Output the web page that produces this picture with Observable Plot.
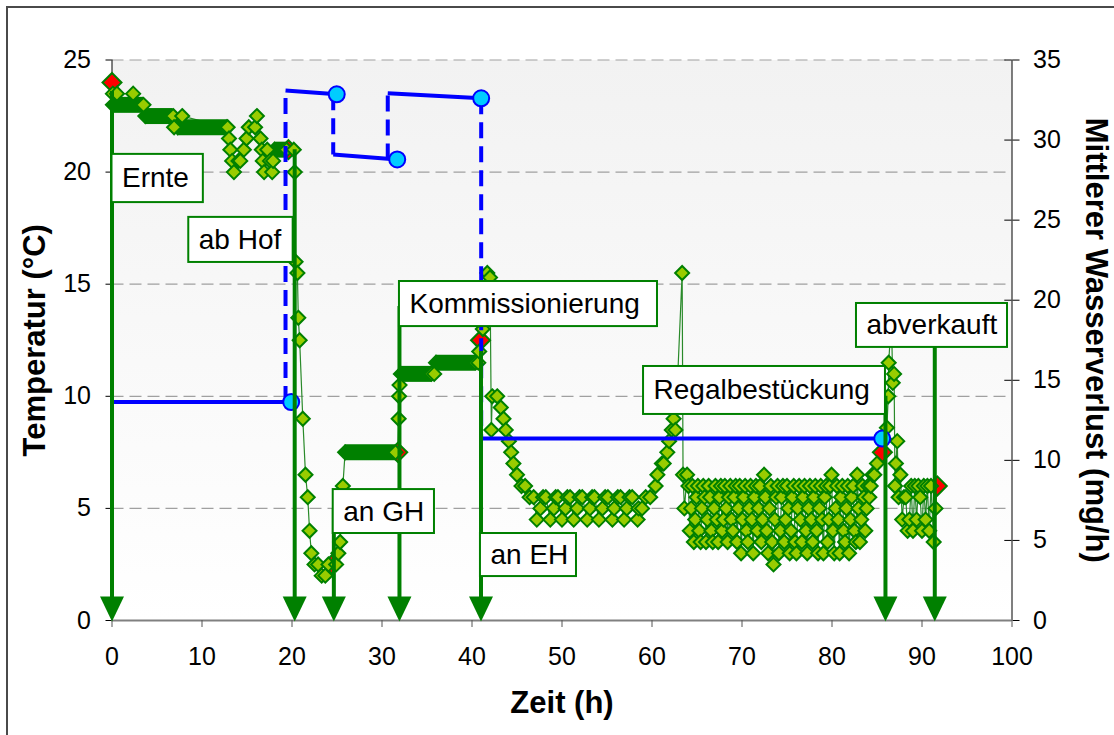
<!DOCTYPE html>
<html><head><meta charset="utf-8">
<script src="https://cdn.jsdelivr.net/npm/d3@7"></script>
<script src="https://cdn.jsdelivr.net/npm/@observablehq/plot@0.6"></script>
<style>
body{margin:0;background:#fff;overflow:hidden}
#wrap{position:relative;width:1114px;height:735px;overflow:hidden}
#border{position:absolute;left:6px;top:6px;width:1130px;height:760px;border:2px solid #4a4a4a;pointer-events:none}
</style></head><body>
<svg width="0" height="0" style="position:absolute"><defs><linearGradient id="bgGrad" x1="0" y1="0" x2="0" y2="1"><stop offset="0" stop-color="#f2f2f2"/><stop offset="1" stop-color="#ffffff"/></linearGradient></defs></svg>
<div id="wrap"><div id="chart"></div><div id="border"></div></div>
<script>
// ---------------- data ----------------
// temperature readings (h, °C)
const tempPoints = [
 [0.1,23.5],[0.55,23.5],[2.35,23.5],[3.5,23.0],[6.9,22.0],[7.8,22.5],[12.85,22.0],[13.0,21.5],[13.15,21.0],
 [13.35,20.5],[13.55,20.0],[14.05,20.5],[14.25,20.5],[14.65,21.0],[14.95,21.5],[15.2,22.0],[15.9,22.0],
 [16.1,22.5],[16.5,21.5],[16.65,21.0],[16.75,20.5],[16.9,20.0],[17.25,21.0],[17.55,20.5],[17.8,20.0],[17.9,20.5],
 [20.2,21.0],[20.3,20.0],[20.4,16.0],[20.6,15.5],[20.7,13.5],[20.85,12.5],[21.2,9.0],[21.5,6.5],[21.75,5.5],
 [21.95,4.0],[22.15,3.0],[22.5,2.5],[22.9,2.5],[23.3,2.0],[23.7,2.0],[24.05,2.5],[24.9,2.5],[25.15,3.0],
 [25.35,3.5],[25.65,6.0],[31.85,9.0],[31.9,10.0],[31.95,10.5],[35.8,11.0],[40.7,11.5],[40.8,12.0],
 [41.2,13.0],[41.7,15.5],[42.0,15.3],[42.15,8.5],[42.25,10.0],[42.8,10.0],[43.2,9.5],[43.5,9.0],[43.75,8.5],
 [44.1,8.0],[44.35,7.5],[44.6,7.0],[45.0,6.5],[45.5,6.0],[45.9,6.0],[46.4,5.5],
 [46.85,5.5],[47.2,4.5],[47.6,5.0],[47.9,5.5],[48.2,5.5],[48.7,4.5],[49.1,5.0],[49.3,5.5],[49.55,5.5],
 [50.0,4.5],[50.4,5.0],[50.6,5.5],[50.9,5.5],[51.3,4.5],[51.7,5.0],[51.95,5.5],[52.25,5.5],[52.8,4.5],
 [53.1,5.0],[53.35,5.5],[53.6,5.5],[54.1,4.5],[54.5,5.0],[54.8,5.5],[55.1,5.5],[55.6,4.5],[55.8,5.0],
 [56.2,5.5],[56.5,5.5],[56.9,4.5],[57.2,5.0],[57.5,5.5],[57.8,5.5],[58.4,4.5],[58.5,5.0],[58.9,5.0],[59.3,5.5],
 [59.8,5.5],[60.4,6.0],[60.6,6.5],[61.1,7.0],[61.3,7.0],[61.7,7.5],[61.9,8.0],[62.2,8.5],[62.4,9.0],[62.6,8.5],
 [63.35,15.5],[63.45,6.5],[63.6,5.0],
 [63.9,6.5],[64.05,6.0],[64.2,4.0],[64.35,5.0],[64.5,6.0],[64.65,3.5],[64.8,4.5],[64.95,5.5],
 [65.1,6.0],[65.25,4.0],[65.4,3.5],[65.55,5.0],[65.7,6.0],[65.85,5.5],[66.0,3.5],[66.15,4.5],
 [66.3,6.0],[66.45,5.5],[66.6,4.0],[66.75,3.5],[66.9,5.0],[67.05,6.0],[67.2,4.5],[67.35,3.5],
 [67.5,5.5],[67.65,6.0],[67.8,4.0],[67.95,4.5],[68.1,6.0],[68.25,5.0],[68.4,3.5],[68.55,5.5],
 [68.7,6.0],[68.85,4.5],[69.0,4.0],[69.15,5.5],[69.3,6.0],[69.45,3.5],[69.6,5.0],[69.75,6.0],
 [69.9,3.0],[70.05,4.5],[70.2,5.5],[70.35,6.0],[70.5,4.0],[70.65,3.5],[70.8,5.0],[70.95,6.0],
 [71.1,4.5],[71.25,3.0],[71.4,5.5],[71.55,6.0],[71.7,4.0],[71.85,5.0],[72.0,6.0],[72.15,3.5],
 [72.3,4.5],[72.45,6.5],[72.6,5.5],[72.75,4.0],[72.9,3.0],[73.05,5.0],[73.2,6.0],[73.35,3.5],
 [73.5,2.5],[73.65,4.5],[73.8,5.5],[73.95,6.0],[74.1,3.0],[74.25,4.0],[74.4,5.5],[74.55,6.0],
 [74.7,3.5],[74.85,4.5],[75.0,6.0],[75.15,5.0],[75.3,3.0],[75.45,4.0],[75.6,5.5],[75.75,6.0],
 [75.9,3.5],[76.05,3.0],[76.2,5.0],[76.35,6.0],[76.5,4.5],[76.65,3.5],[76.8,5.5],[76.95,6.0],
 [77.1,4.0],[77.25,3.0],[77.4,5.0],[77.55,6.0],[77.7,4.5],[77.85,3.5],[78.0,5.5],[78.15,6.0],
 [78.3,4.0],[78.45,3.0],[78.6,5.0],[78.75,6.0],[78.9,4.5],[79.05,3.0],[79.2,5.5],[79.35,6.0],
 [79.5,3.5],[79.65,4.5],[79.8,6.0],[79.95,6.5],[80.1,4.0],[80.25,3.0],[80.4,5.0],[80.55,6.0],
 [80.7,4.5],[80.85,3.0],[81.0,5.5],[81.15,6.0],[81.3,4.0],[81.45,3.5],[81.6,5.0],[81.75,6.0],
 [81.9,3.0],[82.05,4.5],[82.2,5.5],[82.35,6.0],[82.5,4.0],[82.65,3.5],[82.8,6.5],[82.95,5.0],
 [83.1,3.5],[83.25,4.5],[83.4,6.0],[83.55,5.5],[83.7,4.0],[83.85,5.0],[84.0,6.0],[84.15,5.5],
 [84.3,6.0],[84.5,6.5],[84.7,6.5],[85.0,7.0],
 [85.8,8.1],[86.1,8.6],[86.25,10.0],[86.3,11.5],[86.6,13.5],[86.75,10.6],[86.9,11.0],[87.0,6.0],[87.1,7.0],
 [87.25,8.0],[87.4,5.5],[87.6,6.5],[87.8,4.5],[88.0,5.5],[88.2,5.5],[88.4,4.0],[88.6,4.5],[88.8,6.0],
 [89.0,4.0],[89.2,6.0],[89.4,4.5],[89.6,6.0],[89.8,5.5],[90.0,4.0],[90.2,6.0],[90.4,4.5],[90.6,6.0],
 [90.8,4.0],[91.0,6.0],[91.3,3.5],[91.5,5.0]
];
// runs of identical readings (from h, to h, °C)
const plateaus = [
 [0.1,3.4,23.0],[3.7,6.8,22.5],[7.3,12.7,22.0],[18.05,19.4,21.0],[25.9,31.5,7.5],[32.1,35.5,11.0],[36.0,40.4,11.5]
];
// readings at the logistic events (red)
const eventReadings = [[0,24.0],[19.6,21.0],[24.45,2.5],[31.75,7.5],[40.95,12.5],[85.6,7.5],[91.7,6.0]];

// mean water loss (mg/h): horizontal steps [x1, y1, x2, y2] and jumps between them
const waterSteps = [
 [0,13.64,19.91,13.64],[19.28,33.1,24.97,32.86],[24.58,29.1,31.69,28.79],[30.64,32.92,41.02,32.61],[41.02,11.36,85.58,11.36]
];
const waterJumps = [
 [19.28,13.64,19.28,33.1],[24.58,32.86,24.58,29.1],[30.64,28.79,30.64,32.92],[41.02,32.61,41.02,11.36]
];
const waterMarkers = [[19.91,13.64],[24.97,32.86],[31.69,28.79],[41.02,32.61],[85.58,11.36]];

// event arrows
const eventX   = [0, 20.3, 24.65, 31.94, 41.0, 85.94, 91.42];
const eventTop = [23.6, 21.0, 5.0, 14.0, 12.0, 10.0, 13.0];

// event labels (boxes in h / °C)
const labelText   = ["Ernte","ab Hof","an GH","Kommissionierung","an EH","Regalbestückung","abverkauft"];
const labelX1     = [0, 8.53, 24.58, 31.94, 40.94, 59.06, 82.72];
const labelX2     = [10.15, 20.13, 35.83, 60.61, 51.61, 85.94, 99.5];
const labelTop    = [20.79, 17.98, 5.84, 15.12, 3.88, 11.33, 14.14];
const labelBottom = [18.64, 15.97, 3.88, 13.11, 1.96, 9.19, 12.18];

const xTicks = [0,10,20,30,40,50,60,70,80,90,100];
const leftTicks = [0,5,10,15,20,25];
const rightTicks = [0,5,10,15,20,25,30,35];
const gridValues = [5,10,15,20,25];

// ---------------- build ----------------
const k = 25/35; // right axis (mg/h) -> left axis (°C)
const GREEN = "#008000", LIME = "#99cc00", RED = "#ff0000", BLUE = "#0000ff", CYAN = "#00ccff";
const HY = 7, HR = 9.5;

const dots = [
  ...tempPoints.map(([t,v]) => ({t, v, f: LIME, h: HY})),
  ...plateaus.map(([t1,t2,v]) => ({t: t2, v, f: LIME, h: HY})),
  ...eventReadings.map(([t,v]) => ({t, v, f: RED, h: HR}))
].sort((a,b) => a.t - b.t);
const linePts = [
  ...tempPoints.map(([t,v]) => ({t, v})),
  ...plateaus.flatMap(([t1,t2,v]) => [{t: t1, v}, {t: t2, v}]),
  ...eventReadings.map(([t,v]) => ({t, v}))
].sort((a,b) => a.t - b.t);
const events = eventX.map((x,i) => ({x, top: eventTop[i]}));
const labels = labelText.map((text,i) => ({text, x1: labelX1[i], x2: labelX2[i], top: labelTop[i], bottom: labelBottom[i]}));

// diamond whose half-diagonal equals the dot radius
const diamond = {draw(ctx, size){ const H = Math.sqrt(size/Math.PI); ctx.moveTo(0,-H); ctx.lineTo(H,0); ctx.lineTo(0,H); ctx.lineTo(-H,0); ctx.closePath(); }};
const arrowHead = {draw(ctx){ ctx.moveTo(0,1); ctx.lineTo(-12,-24); ctx.lineTo(12,-24); ctx.closePath(); }};

const chart = Plot.plot({
  width: 1114, height: 735,
  marginLeft: 111.5, marginRight: 102.5, marginTop: 59.5, marginBottom: 115,
  x: {domain: [0,100]},
  y: {domain: [0,25]},
  r: {type: "identity"},
  color: {type: "identity"},
  style: {fontFamily: "'Liberation Sans', Arial, sans-serif", color: "black", background: "transparent", overflow: "visible"},
  marks: [
    Plot.frame({fill: "url(#bgGrad)", stroke: "none"}),
    Plot.ruleY(gridValues, {stroke: "#a0a0a0", strokeWidth: 1.2, strokeDasharray: "12,6"}),
    Plot.ruleX([0], {stroke: "black"}),
    Plot.ruleX([100], {stroke: "black"}),
    Plot.ruleY(rightTicks, {y: d => d*k, x1: 99.2, x2: 100, stroke: "black"}),
    Plot.ruleY([0], {stroke: "#808080", strokeWidth: 2}),
    Plot.axisY({ticks: leftTicks, anchor: "left", tickSize: 6, tickPadding: 15, fontSize: 25, label: null, stroke: "black"}),
    Plot.axisY({ticks: rightTicks.map(d => d*k), tickFormat: d => Math.round(d/k), anchor: "right", tickSize: 7, tickPadding: 14, fontSize: 25, label: null, stroke: "black"}),
    Plot.axisX({ticks: xTicks, anchor: "bottom", tickSize: 7, tickPadding: 20, fontSize: 25, label: null, stroke: "#555"}),
    Plot.line(linePts, {x: "t", y: "v", stroke: "#2a8a2a", strokeWidth: 1.2}),
    Plot.ruleY(plateaus, {x1: d => d[0], x2: d => d[1], y: d => d[2], stroke: GREEN, strokeWidth: 16}),
    Plot.dot(plateaus, {x: d => d[0], y: d => d[2], symbol: diamond, r: HY, fill: GREEN, stroke: GREEN, strokeWidth: 2}),
    Plot.dot(dots, {x: "t", y: "v", symbol: diamond, r: "h", fill: "f", stroke: GREEN, strokeWidth: 2}),
    Plot.link(waterJumps, {x1: d => d[0], y1: d => d[1]*k, x2: d => d[2], y2: d => d[3]*k, stroke: BLUE, strokeWidth: 4, strokeDasharray: "16,8"}),
    Plot.link(waterSteps, {x1: d => d[0], y1: d => d[1]*k, x2: d => d[2], y2: d => d[3]*k, stroke: BLUE, strokeWidth: 4}),
    Plot.dot(waterMarkers, {x: d => d[0], y: d => d[1]*k, r: 8, fill: CYAN, stroke: BLUE, strokeWidth: 2}),
    Plot.ruleX(events, {x: "x", y1: "top", y2: 0.6, stroke: GREEN, strokeWidth: 4}),
    Plot.dot(events, {x: "x", y: 0, symbol: arrowHead, r: 10, fill: GREEN, stroke: "none"}),
    Plot.rect(labels, {x1: "x1", x2: "x2", y1: "bottom", y2: "top", fill: "white", stroke: GREEN, strokeWidth: 2}),
    Plot.text(labels, {x: "x1", y: d => (d.top + d.bottom)/2, text: "text", dx: 10, textAnchor: "start", fontSize: 28, fill: "black"}),
    Plot.text(["Temperatur (°C)"], {text: d => d, frameAnchor: "left", textAnchor: "middle", dx: -77, rotate: -90, fontSize: 31, fontWeight: "bold", fill: "black"}),
    Plot.text(["Mittlerer Wasserverlust (mg/h)"], {text: d => d, frameAnchor: "right", textAnchor: "middle", dx: 84, rotate: 90, fontSize: 31, fontWeight: "bold", fill: "black"}),
    Plot.text(["Zeit (h)"], {text: d => d, frameAnchor: "bottom", dy: 92, fontSize: 31, fontWeight: "bold", fill: "black"})
  ]
});
document.getElementById("chart").appendChild(chart);
</script>
</body></html>
